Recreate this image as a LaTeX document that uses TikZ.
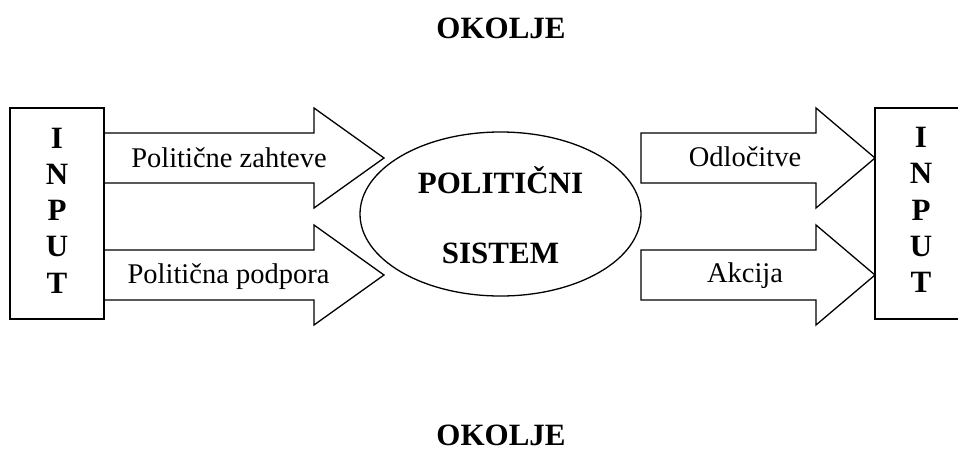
\documentclass[tikz,border=0pt]{standalone}
\usepackage{fontspec}
\setmainfont{Liberation Serif}
\usetikzlibrary{shapes.geometric}
\begin{document}
\begin{tikzpicture}[x=1pt,y=-1pt,line width=1.3pt,
  bigtext/.style={font=\fontsize{31}{36}\selectfont\bfseries,inner sep=0pt,anchor=base},
  lbl/.style={font=\fontsize{28.5}{34}\selectfont,inner sep=0pt,anchor=base},
  blockarrow/.style={draw,line width=1.3pt,line join=miter},
  inbox/.style={draw,minimum width=94pt,minimum height=211pt,inner sep=0pt}]
\useasboundingbox (0,0) rectangle (958,450);
% titles
\node[bigtext] (okt) at (501,38) {OKOLJE};
\node[bigtext] (okb) at (501,445) {OKOLJE};
% left input box
\node[inbox] (inL) at (57,213.5) {};
% right input box (right side beyond the picture)
\node[draw=none,minimum width=94pt,minimum height=211pt,inner sep=0pt] (inR) at (922,213.5) {};
\draw (958,108) -- (875,108) -- (875,319) -- (958,319);
\foreach \c [count=\i from 0] in {I,N,P,U,T}{
  \node[bigtext] (L\i) at (57,148+36.25*\i) {\c};
  \node[bigtext] (R\i) at (921,147.5+36.25*\i) {\c};
}
% political system
\node[draw,ellipse,minimum width=281pt,minimum height=164pt,inner sep=0pt] (sys) at (500.5,214) {};
\node[bigtext] (sys1) at (500.5,193) {POLITIČNI};
\node[bigtext] (sys2) at (500.5,263) {SISTEM};
% left block arrows
\draw[blockarrow] (104,133) -- (314,133) -- (314,108) -- (384,158) -- (314,208) -- (314,183) -- (104,183);
\draw[blockarrow] (104,250) -- (314,250) -- (314,225) -- (384,275) -- (314,325) -- (314,300) -- (104,300);
\node[lbl] (pz) at (229,167) {Politične zahteve};
\node[lbl] (pp) at (228.5,283) {Politična podpora};
% right block arrows
\draw[blockarrow] (641,133) -- (816,133) -- (816,108) -- (875,158) -- (816,208) -- (816,183) -- (641,183) -- cycle;
\draw[blockarrow] (641,250) -- (816,250) -- (816,225) -- (875,275) -- (816,325) -- (816,300) -- (641,300) -- cycle;
\node[lbl] (od) at (745,166) {Odločitve};
\node[lbl] (ak) at (745,282) {Akcija};
\end{tikzpicture}
\end{document}
